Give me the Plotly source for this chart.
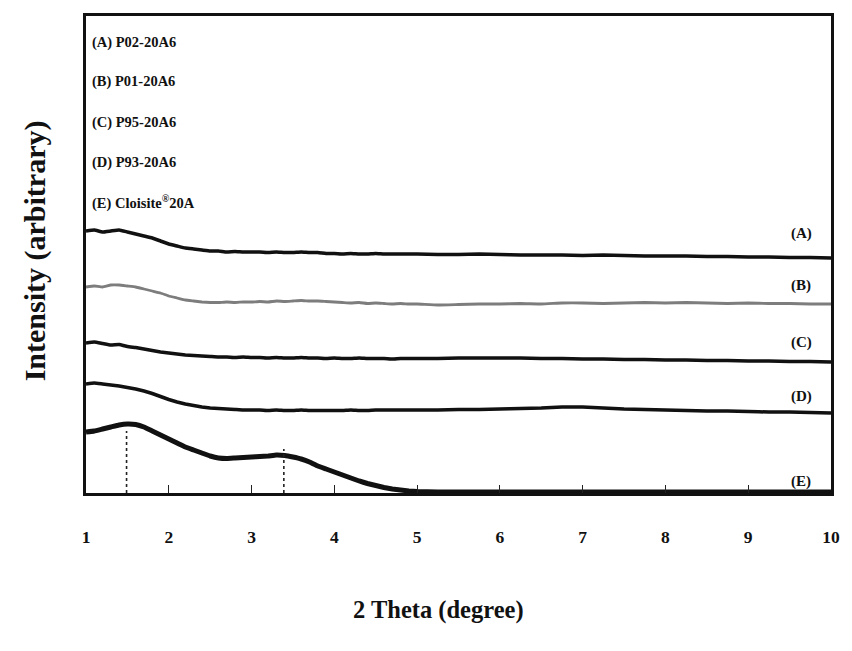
import plotly.graph_objects as go

# 2-theta scan positions (degrees)
two_theta = [1.0, 1.1, 1.2, 1.3, 1.4, 1.5, 1.6, 1.7, 1.8, 1.9,
             2.0, 2.1, 2.2, 2.3, 2.4, 2.5, 2.6, 2.7, 2.8, 2.9,
             3.0, 3.1, 3.2, 3.3, 3.4, 3.5, 3.6, 3.7, 3.8, 3.9,
             4.0, 4.1, 4.2, 4.3, 4.4, 4.5, 4.6, 4.7, 4.8, 4.9,
             5.0, 5.25, 5.5, 5.75, 6.0, 6.25, 6.5, 6.75, 7.0, 7.25,
             7.5, 7.75, 8.0, 8.25, 8.5, 8.75, 9.0, 9.25, 9.5, 9.75, 10.0]

# Offset diffraction intensities (arbitrary units, stacked)
int_a = [262, 263, 261, 262, 263, 261, 259, 257, 255, 252,
         249, 247, 245, 244, 243, 242, 242, 241, 241.5, 241,
         241, 241, 240.5, 241, 240.5, 240.5, 241, 240.5, 240.5, 239.5,
         239.5, 239, 239.5, 239, 239, 239.5, 239, 239, 239, 239,
         239, 238.5, 238.5, 239, 238.5, 238, 238, 238, 237.5, 238,
         237.5, 237, 237, 237, 236.5, 236.5, 236, 236, 235.5, 235.5, 235]
int_b = [206, 207, 206, 208, 208, 207, 206, 204, 202, 200,
         197, 195, 193, 192, 191, 190.5, 190.5, 191, 190.5, 191,
         191, 191.5, 191, 192, 191.5, 192, 192.5, 192, 192, 191.5,
         191, 190.5, 190, 190.5, 189.5, 190, 189.5, 189, 189.5, 189,
         189, 188, 188.5, 189, 189, 189.5, 189, 190, 190, 189.5,
         190, 190.5, 190, 190.5, 190, 189.5, 190, 189.5, 189.5, 189, 189]
int_c = [150, 151, 149.5, 148, 148.5, 146.5, 145.5, 144, 142.5, 141,
         140, 139, 138, 137.5, 137, 136.5, 136, 136, 135.5, 136,
         135.5, 135.5, 135, 135.5, 135, 135, 135.5, 135, 135, 134.5,
         135, 134.5, 134.5, 135, 134.5, 134.5, 134.5, 134, 134.5, 134.5,
         134.5, 134.5, 135, 135, 135, 135, 134.5, 134.5, 134, 134,
         133.5, 133.5, 133, 133, 132.5, 132.5, 132, 132, 131.5, 131.5, 131]
int_d = [109, 110, 109, 108, 107, 105.5, 104, 102, 99.5, 96.5,
         93.5, 91, 89, 87.5, 86, 85, 84.5, 84, 83.5, 83,
         83, 83, 82.5, 83, 82.5, 82.5, 83, 82.5, 82.5, 82.5,
         82.5, 82.5, 83, 82.5, 82.5, 83, 83, 83, 83, 83,
         83, 83, 83.5, 83.5, 84, 84.5, 85, 86, 86, 85,
         84, 83.5, 83, 82.5, 82, 82, 81.5, 81, 81, 80.5, 80]
int_e = [61, 62, 64, 66, 68, 69, 68.5, 66, 62, 58,
         54, 50, 46, 43, 40, 37, 35, 34.5, 35, 35.5,
         36, 36.5, 37, 38, 37.5, 36, 34, 31, 27, 24,
         21, 18, 15, 12, 9.5, 7.5, 5.5, 4, 3, 2,
         1.5, 1, 1, 1, 1, 1, 1, 1, 1, 1,
         1, 1, 1, 1, 1, 1, 1, 1, 1, 1, 1]

series_tags = ["(A)", "(B)", "(C)", "(D)", "(E)"]
series_names = ["(A) P02-20A6", "(B) P01-20A6", "(C) P95-20A6",
                "(D) P93-20A6", "(E) Cloisite<sup>®</sup>20A"]
tag_levels = [260, 208, 151, 97, 12]

# Basal reflections of the clay marked with dotted drop lines
peak_positions = [1.49, 3.39]
peak_marker_tops = [62, 44]

x_ticks = [1, 2, 3, 4, 5, 6, 7, 8, 9, 10]

FONT = "Liberation Serif, Times New Roman, serif"

fig = go.Figure()

curves = [int_a, int_b, int_c, int_d, int_e]
colors = ["#111111", "#7d7d7d", "#111111", "#111111", "#111111"]
widths = [3.5, 2.8, 3.5, 3.5, 5.0]
for vals, col, w, name in zip(curves, colors, widths, series_names):
    fig.add_trace(go.Scatter(x=two_theta, y=vals, mode="lines", name=name,
                             line=dict(color=col, width=w, shape="spline",
                                       smoothing=0.3),
                             showlegend=False))

for px, top in zip(peak_positions, peak_marker_tops):
    fig.add_trace(go.Scatter(x=[px, px], y=[0, top], mode="lines",
                             line=dict(color="#222222", width=1.6, dash="dot"),
                             showlegend=False))

annotations = []
# Curve tags on the right
for tag, lvl in zip(series_tags, tag_levels):
    annotations.append(dict(x=9.64, y=lvl, xref="x", yref="y", text=f"<b>{tag}</b>",
                            showarrow=False, font=dict(family=FONT, size=15, color="#111111"),
                            xanchor="center", yanchor="middle"))

# Sample list in the upper-left corner
list_rows = [43, 81, 122, 162, 203]
for name, py in zip(series_names, list_rows):
    annotations.append(dict(x=(90 - 86) / 750, y=(493 - py) / 477, xref="paper", yref="paper",
                            text=f"<b>{name}</b>", showarrow=False,
                            font=dict(family=FONT, size=14.5, color="#111111"),
                            xanchor="left", yanchor="middle"))

annotations.append(dict(x=(35 - 86) / 750, y=(493 - 251) / 477, xref="paper", yref="paper",
                        text="<b>Intensity (arbitrary)</b>", textangle=-90, showarrow=False,
                        font=dict(family=FONT, size=30, color="#111111"),
                        xanchor="center", yanchor="middle"))
annotations.append(dict(x=(441 - 86) / 750, y=(493 - 610) / 477, xref="paper", yref="paper",
                        text="<b>2 Theta (degree)</b>", showarrow=False,
                        font=dict(family=FONT, size=24.5, color="#111111"),
                        xanchor="center", yanchor="middle"))

fig.update_layout(
    width=852, height=651,
    margin=dict(l=86, r=16, t=16, b=158),
    paper_bgcolor="white", plot_bgcolor="white",
    annotations=annotations,
    xaxis=dict(range=[1, 10], tickvals=x_ticks, ticktext=[f"<b>{v}</b>" for v in x_ticks],
               ticks="inside", ticklen=8, tickwidth=1, tickcolor="#222222",
               showline=True, linewidth=3, linecolor="#111111", mirror=True,
               showgrid=False, zeroline=False, ticklabelstandoff=26,
               tickfont=dict(family=FONT, size=17.5, color="#111111")),
    yaxis=dict(range=[0, 477], showticklabels=False, ticks="",
               showline=True, linewidth=3, linecolor="#111111", mirror=True,
               showgrid=False, zeroline=False),
)

fig.write_html("out.html")
